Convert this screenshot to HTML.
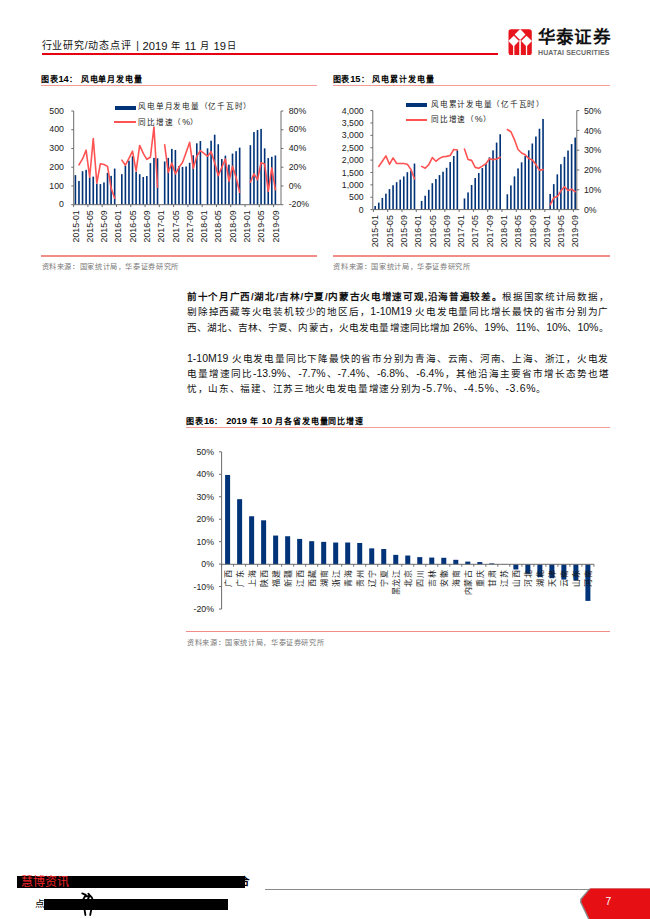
<!DOCTYPE html>
<html lang="zh-CN">
<head>
<meta charset="utf-8">
<title>华泰证券 行业研究/动态点评</title>
<style>
html,body{margin:0;padding:0;background:#fff;}
body{width:650px;height:919px;position:relative;overflow:hidden;font-family:"Liberation Sans",sans-serif;color:#000;}
.abs{position:absolute;white-space:nowrap;}
.hdr{left:41.5px;top:38.5px;font-size:10px;line-height:14px;color:#111;}
.hdr.num{font-size:11.2px;}
.hdr.c{font-size:9.2px;}
.hline{left:41.5px;top:53.4px;width:456px;height:1.8px;background:#e60012;}
.ttl{font-size:8px;font-weight:bold;line-height:10px;letter-spacing:0.85px;}
.ttl span{font-size:9.3px;letter-spacing:0;line-height:8px;}
.tline{height:1.1px;background:#f39c98;}
.bline{height:1.4px;background:#f28c86;}
.src{font-size:7.2px;line-height:10px;color:#777;letter-spacing:0.63px;}
.leg{font-size:7.6px;line-height:10px;color:#222;letter-spacing:0.75px;}
.leg span{font-size:8.8px;letter-spacing:0;}
.para{position:absolute;left:187px;width:421.5px;font-size:9.6px;line-height:15.3px;color:#111;text-align:justify;text-align-last:justify;}
.para div{white-space:nowrap;height:15.3px;}
.para .n{font-size:10.5px;line-height:10px;}
.para div.last{text-align-last:left;letter-spacing:0.69px;}
svg{position:absolute;left:0;top:0;}
svg text{font-family:"Liberation Sans",sans-serif;}
.ax{font-size:8.75px;fill:#222;}
.pv{font-size:8px;fill:#1a1a1a;letter-spacing:0.5px;}
.logocn{left:537.5px;top:27.4px;font-size:17.6px;line-height:20px;font-weight:bold;letter-spacing:0.4px;color:#111;}
.logoen{left:538px;top:49.3px;font-size:7px;line-height:8px;font-weight:bold;color:#6a6a6a;letter-spacing:0.13px;}
</style>
</head>
<body>

<div class="abs hdr" style="letter-spacing:0.8px;">行业研究/动态点评</div>
<div class="abs hdr" style="left:136.3px;">|</div>
<div class="abs hdr num" style="left:142.6px;">2019</div>
<div class="abs hdr c" style="left:171.1px;">年</div>
<div class="abs hdr num" style="left:184.6px;">11</div>
<div class="abs hdr c" style="left:200.4px;">月</div>
<div class="abs hdr num" style="left:213.5px;">19</div>
<div class="abs hdr c" style="left:227.4px;">日</div>
<div class="abs hline"></div>

<!-- logo -->
<svg width="650" height="70" viewBox="0 0 650 70" style="height:70px">
 <g transform="translate(508.5 29.2)">
  <rect x="0" y="0" width="23.3" height="25.85" rx="2.6" ry="2.6" fill="#e8141c"/>
  <g fill="#fff">
   <polygon points="11.65,-0.2 17.0,5.4 11.65,10.8 6.1,5.4"/>
   <polygon points="5.3,6.6 10.5,11.8 5.2,17.2 -0.2,11.8"/>
   <polygon points="18,6.6 23.5,11.8 18,17.2 12.7,11.8"/>
   <rect x="4.6" y="15" width="1.25" height="11"/>
   <rect x="10.75" y="11" width="1.6" height="15"/>
   <rect x="17.4" y="15" width="1.25" height="11"/>
  </g>
 </g>
</svg>
<div class="abs logocn">华泰证券</div>
<div class="abs logoen">HUATAI SECURITIES</div>

<!-- chart titles -->
<div class="abs ttl" style="left:40.7px;top:74.9px;">图表<span>14</span>： 风电单月发电量</div>
<div class="abs tline" style="left:40.9px;top:85.4px;width:276.1px;"></div>
<div class="abs ttl" style="left:332.5px;top:74.9px;">图表<span>15</span>： 风电累计发电量</div>
<div class="abs tline" style="left:332.7px;top:85.4px;width:277.1px;"></div>

<!-- legends -->
<div class="abs" style="left:115px;top:105.6px;width:20.6px;height:4px;background:#003378;"></div>
<div class="abs leg" style="left:138.4px;top:101.8px;">风电单月发电量（亿千瓦时）</div>
<div class="abs" style="left:114px;top:121px;width:22px;height:1.6px;background:#ff5252;"></div>
<div class="abs leg" style="left:138.4px;top:116.6px;">同比增速（<span>%</span>）</div>

<div class="abs" style="left:406.2px;top:103px;width:20.6px;height:4px;background:#003378;"></div>
<div class="abs leg" style="left:431px;top:99.6px;">风电累计发电量（亿千瓦时）</div>
<div class="abs" style="left:406.2px;top:119px;width:20.6px;height:1.7px;background:#ff5252;"></div>
<div class="abs leg" style="left:431px;top:114.4px;">同比增速（<span>%</span>）</div>

<svg width="650" height="919" viewBox="0 0 650 919">
<g id="chart14">
<rect x="74.59" y="175.12" width="1.62" height="29.58" fill="#003378"/>
<rect x="78.16" y="180.93" width="1.62" height="23.77" fill="#003378"/>
<rect x="81.73" y="171.19" width="1.62" height="33.51" fill="#003378"/>
<rect x="85.3" y="169.88" width="1.62" height="34.82" fill="#003378"/>
<rect x="88.87" y="177.37" width="1.62" height="27.33" fill="#003378"/>
<rect x="92.45" y="176.62" width="1.62" height="28.08" fill="#003378"/>
<rect x="96.02" y="183.55" width="1.62" height="21.15" fill="#003378"/>
<rect x="99.59" y="184.11" width="1.62" height="20.59" fill="#003378"/>
<rect x="103.16" y="182.42" width="1.62" height="22.28" fill="#003378"/>
<rect x="106.73" y="172.88" width="1.62" height="31.82" fill="#003378"/>
<rect x="110.3" y="175.87" width="1.62" height="28.83" fill="#003378"/>
<rect x="113.87" y="168.57" width="1.62" height="36.13" fill="#003378"/>
<rect x="121.01" y="174.19" width="1.62" height="30.51" fill="#003378"/>
<rect x="124.58" y="165.76" width="1.62" height="38.94" fill="#003378"/>
<rect x="128.16" y="160.71" width="1.62" height="43.99" fill="#003378"/>
<rect x="131.73" y="156.22" width="1.62" height="48.48" fill="#003378"/>
<rect x="135.3" y="171.94" width="1.62" height="32.76" fill="#003378"/>
<rect x="138.87" y="174.19" width="1.62" height="30.51" fill="#003378"/>
<rect x="142.44" y="176.99" width="1.62" height="27.71" fill="#003378"/>
<rect x="146.01" y="176.06" width="1.62" height="28.64" fill="#003378"/>
<rect x="149.58" y="163.14" width="1.62" height="41.56" fill="#003378"/>
<rect x="153.15" y="157.9" width="1.62" height="46.8" fill="#003378"/>
<rect x="156.72" y="158.27" width="1.62" height="46.43" fill="#003378"/>
<rect x="163.87" y="161.46" width="1.62" height="43.24" fill="#003378"/>
<rect x="167.44" y="157.9" width="1.62" height="46.8" fill="#003378"/>
<rect x="171.01" y="148.91" width="1.62" height="55.79" fill="#003378"/>
<rect x="174.58" y="150.04" width="1.62" height="54.66" fill="#003378"/>
<rect x="178.15" y="166.14" width="1.62" height="38.56" fill="#003378"/>
<rect x="181.72" y="166.89" width="1.62" height="37.81" fill="#003378"/>
<rect x="185.29" y="166.51" width="1.62" height="38.19" fill="#003378"/>
<rect x="188.86" y="162.77" width="1.62" height="41.93" fill="#003378"/>
<rect x="192.43" y="155.28" width="1.62" height="49.42" fill="#003378"/>
<rect x="196" y="143.3" width="1.62" height="61.4" fill="#003378"/>
<rect x="199.57" y="141.05" width="1.62" height="63.65" fill="#003378"/>
<rect x="206.72" y="148.35" width="1.62" height="56.35" fill="#003378"/>
<rect x="210.29" y="140.68" width="1.62" height="64.02" fill="#003378"/>
<rect x="213.86" y="134.69" width="1.62" height="70.01" fill="#003378"/>
<rect x="217.43" y="144.23" width="1.62" height="60.47" fill="#003378"/>
<rect x="221" y="159.02" width="1.62" height="45.68" fill="#003378"/>
<rect x="224.57" y="155.65" width="1.62" height="49.05" fill="#003378"/>
<rect x="228.14" y="164.64" width="1.62" height="40.06" fill="#003378"/>
<rect x="231.71" y="153.59" width="1.62" height="51.11" fill="#003378"/>
<rect x="235.29" y="151.16" width="1.62" height="53.54" fill="#003378"/>
<rect x="238.86" y="147.6" width="1.62" height="57.1" fill="#003378"/>
<rect x="249.57" y="145.17" width="1.62" height="59.53" fill="#003378"/>
<rect x="253.14" y="132.07" width="1.62" height="72.63" fill="#003378"/>
<rect x="256.71" y="130.01" width="1.62" height="74.69" fill="#003378"/>
<rect x="260.28" y="128.88" width="1.62" height="75.82" fill="#003378"/>
<rect x="263.85" y="148.35" width="1.62" height="56.35" fill="#003378"/>
<rect x="267.42" y="158.09" width="1.62" height="46.61" fill="#003378"/>
<rect x="271" y="156.78" width="1.62" height="47.92" fill="#003378"/>
<rect x="274.57" y="155.47" width="1.62" height="49.23" fill="#003378"/>
<path d="M73.7 111 V204.7 M281 111 V204.7 M73.7 204.7 H281" stroke="#6c6c6c" stroke-width="1" fill="none"/>
<path d="M73.7 204.7 h-2.4 M73.7 185.96 h-2.4 M73.7 167.22 h-2.4 M73.7 148.48 h-2.4 M73.7 129.74 h-2.4 M73.7 111 h-2.4 M281 204.7 h2.4 M281 185.96 h2.4 M281 167.22 h2.4 M281 148.48 h2.4 M281 129.74 h2.4 M281 111 h2.4 M73.61 204.7 v2.4 M87.9 204.7 v2.4 M102.18 204.7 v2.4 M116.47 204.7 v2.4 M130.75 204.7 v2.4 M145.03 204.7 v2.4 M159.32 204.7 v2.4 M173.6 204.7 v2.4 M187.89 204.7 v2.4 M202.17 204.7 v2.4 M216.45 204.7 v2.4 M230.74 204.7 v2.4 M245.02 204.7 v2.4 M259.31 204.7 v2.4 M273.59 204.7 v2.4 " stroke="#6c6c6c" stroke-width="1" fill="none"/>
<polyline points="78.97,164.92 82.54,158.93 86.11,150.13 89.68,177.09 93.26,138.62 96.83,182.98 100.4,163.7 103.97,164.45 107.54,166.42 111.11,188.13 114.68,198.24" fill="none" stroke="#ff5252" stroke-width="1.6" stroke-linejoin="round" stroke-linecap="round"/>
<polyline points="121.82,160.15 125.39,165.2 128.97,158.46 132.54,151.16 136.11,171.19 139.68,145.45 143.25,153.41 146.82,159.3 150.39,157.24 153.96,127.11 157.53,187.29" fill="none" stroke="#ff5252" stroke-width="1.6" stroke-linejoin="round" stroke-linecap="round"/>
<polyline points="164.68,144.89 168.25,172.5 171.82,163.05 175.39,173.81 178.96,167.26 182.53,162.58 186.1,152.56 189.67,142.36 193.24,168.2 196.81,156.22 200.38,150.69 207.53,156.22 211.1,151.63 214.67,162.67 218.24,175.68 221.81,167.26 225.38,159.02 228.95,181.21 232.52,166.32 236.1,177.56 239.67,192.25" fill="none" stroke="#ff5252" stroke-width="1.6" stroke-linejoin="round" stroke-linecap="round"/>
<polyline points="250.38,182.24 253.95,173.81 257.52,179.71 261.09,162.67 264.66,163.98 268.23,191.32 271.81,167.92 275.38,189.72" fill="none" stroke="#ff5252" stroke-width="1.6" stroke-linejoin="round" stroke-linecap="round"/>
<text x="63.9" y="207.3" text-anchor="end" class="ax">0</text>
<text x="63.9" y="188.56" text-anchor="end" class="ax">100</text>
<text x="63.9" y="169.82" text-anchor="end" class="ax">200</text>
<text x="63.9" y="151.08" text-anchor="end" class="ax">300</text>
<text x="63.9" y="132.34" text-anchor="end" class="ax">400</text>
<text x="63.9" y="113.6" text-anchor="end" class="ax">500</text>
<text x="288.7" y="207.3" class="ax">-20%</text>
<text x="288.7" y="188.56" class="ax">0%</text>
<text x="288.7" y="169.82" class="ax">20%</text>
<text x="288.7" y="151.08" class="ax">40%</text>
<text x="288.7" y="132.34" class="ax">60%</text>
<text x="288.7" y="113.6" class="ax">80%</text>
<text transform="translate(78.6 210.3) rotate(-90)" text-anchor="end" class="ax">2015-01</text>
<text transform="translate(92.88 210.3) rotate(-90)" text-anchor="end" class="ax">2015-05</text>
<text transform="translate(107.17 210.3) rotate(-90)" text-anchor="end" class="ax">2015-09</text>
<text transform="translate(121.45 210.3) rotate(-90)" text-anchor="end" class="ax">2016-01</text>
<text transform="translate(135.74 210.3) rotate(-90)" text-anchor="end" class="ax">2016-05</text>
<text transform="translate(150.02 210.3) rotate(-90)" text-anchor="end" class="ax">2016-09</text>
<text transform="translate(164.3 210.3) rotate(-90)" text-anchor="end" class="ax">2017-01</text>
<text transform="translate(178.59 210.3) rotate(-90)" text-anchor="end" class="ax">2017-05</text>
<text transform="translate(192.87 210.3) rotate(-90)" text-anchor="end" class="ax">2017-09</text>
<text transform="translate(207.16 210.3) rotate(-90)" text-anchor="end" class="ax">2018-01</text>
<text transform="translate(221.44 210.3) rotate(-90)" text-anchor="end" class="ax">2018-05</text>
<text transform="translate(235.72 210.3) rotate(-90)" text-anchor="end" class="ax">2018-09</text>
<text transform="translate(250.01 210.3) rotate(-90)" text-anchor="end" class="ax">2019-01</text>
<text transform="translate(264.29 210.3) rotate(-90)" text-anchor="end" class="ax">2019-05</text>
<text transform="translate(278.58 210.3) rotate(-90)" text-anchor="end" class="ax">2019-09</text>
</g>
<g id="chart15">
<rect x="374.39" y="206.05" width="1.62" height="3.55" fill="#003378"/>
<rect x="377.96" y="202.66" width="1.62" height="6.94" fill="#003378"/>
<rect x="381.53" y="197.92" width="1.62" height="11.68" fill="#003378"/>
<rect x="385.1" y="193.69" width="1.62" height="15.91" fill="#003378"/>
<rect x="388.67" y="189.12" width="1.62" height="20.48" fill="#003378"/>
<rect x="392.25" y="185.23" width="1.62" height="24.37" fill="#003378"/>
<rect x="395.82" y="182.18" width="1.62" height="27.42" fill="#003378"/>
<rect x="399.39" y="179.65" width="1.62" height="29.95" fill="#003378"/>
<rect x="402.96" y="176.43" width="1.62" height="33.17" fill="#003378"/>
<rect x="406.53" y="172.2" width="1.62" height="37.4" fill="#003378"/>
<rect x="410.1" y="170.51" width="1.62" height="39.09" fill="#003378"/>
<rect x="413.67" y="163.57" width="1.62" height="46.03" fill="#003378"/>
<rect x="420.81" y="200.97" width="1.62" height="8.63" fill="#003378"/>
<rect x="424.38" y="195.72" width="1.62" height="13.88" fill="#003378"/>
<rect x="427.95" y="189.8" width="1.62" height="19.8" fill="#003378"/>
<rect x="431.53" y="183.2" width="1.62" height="26.4" fill="#003378"/>
<rect x="435.1" y="178.97" width="1.62" height="30.63" fill="#003378"/>
<rect x="438.67" y="175.08" width="1.62" height="34.52" fill="#003378"/>
<rect x="442.24" y="171.69" width="1.62" height="37.91" fill="#003378"/>
<rect x="445.81" y="167.8" width="1.62" height="41.8" fill="#003378"/>
<rect x="449.38" y="162.05" width="1.62" height="47.55" fill="#003378"/>
<rect x="452.95" y="155.95" width="1.62" height="53.65" fill="#003378"/>
<rect x="456.52" y="150.2" width="1.62" height="59.4" fill="#003378"/>
<rect x="463.67" y="198.43" width="1.62" height="11.17" fill="#003378"/>
<rect x="467.24" y="192.43" width="1.62" height="17.17" fill="#003378"/>
<rect x="470.81" y="185.05" width="1.62" height="24.55" fill="#003378"/>
<rect x="474.38" y="178.03" width="1.62" height="31.57" fill="#003378"/>
<rect x="477.95" y="173.05" width="1.62" height="36.55" fill="#003378"/>
<rect x="481.52" y="168.06" width="1.62" height="41.54" fill="#003378"/>
<rect x="485.09" y="163.82" width="1.62" height="45.78" fill="#003378"/>
<rect x="488.66" y="157.36" width="1.62" height="52.24" fill="#003378"/>
<rect x="492.23" y="150.34" width="1.62" height="59.26" fill="#003378"/>
<rect x="495.8" y="142.59" width="1.62" height="67.01" fill="#003378"/>
<rect x="499.38" y="134.28" width="1.62" height="75.32" fill="#003378"/>
<rect x="506.52" y="194.28" width="1.62" height="15.32" fill="#003378"/>
<rect x="510.09" y="185.42" width="1.62" height="24.18" fill="#003378"/>
<rect x="513.66" y="176.37" width="1.62" height="33.23" fill="#003378"/>
<rect x="517.23" y="168.43" width="1.62" height="41.17" fill="#003378"/>
<rect x="520.8" y="162.34" width="1.62" height="47.26" fill="#003378"/>
<rect x="524.37" y="156.06" width="1.62" height="53.54" fill="#003378"/>
<rect x="527.94" y="150.34" width="1.62" height="59.26" fill="#003378"/>
<rect x="531.51" y="143.51" width="1.62" height="66.09" fill="#003378"/>
<rect x="535.09" y="136.5" width="1.62" height="73.1" fill="#003378"/>
<rect x="538.66" y="128.74" width="1.62" height="80.86" fill="#003378"/>
<rect x="542.23" y="118.96" width="1.62" height="90.64" fill="#003378"/>
<rect x="549.37" y="193.91" width="1.62" height="15.69" fill="#003378"/>
<rect x="552.94" y="184.12" width="1.62" height="25.48" fill="#003378"/>
<rect x="556.51" y="174.34" width="1.62" height="35.26" fill="#003378"/>
<rect x="560.08" y="164.19" width="1.62" height="45.41" fill="#003378"/>
<rect x="563.65" y="156.8" width="1.62" height="52.8" fill="#003378"/>
<rect x="567.22" y="150.53" width="1.62" height="59.07" fill="#003378"/>
<rect x="570.8" y="144.07" width="1.62" height="65.53" fill="#003378"/>
<rect x="574.37" y="137.6" width="1.62" height="72" fill="#003378"/>
<path d="M372.8 110.6 V209.6 M576.8 110.6 V209.6 M372.8 209.6 H576.8" stroke="#6c6c6c" stroke-width="1" fill="none"/>
<path d="M372.8 209.6 h-2.4 M372.8 197.22 h-2.4 M372.8 184.85 h-2.4 M372.8 172.47 h-2.4 M372.8 160.1 h-2.4 M372.8 147.72 h-2.4 M372.8 135.35 h-2.4 M372.8 122.97 h-2.4 M372.8 110.6 h-2.4 M576.8 209.6 h2.4 M576.8 189.8 h2.4 M576.8 170 h2.4 M576.8 150.2 h2.4 M576.8 130.4 h2.4 M576.8 110.6 h2.4 M373.41 209.6 v2.4 M387.7 209.6 v2.4 M401.98 209.6 v2.4 M416.27 209.6 v2.4 M430.55 209.6 v2.4 M444.83 209.6 v2.4 M459.12 209.6 v2.4 M473.4 209.6 v2.4 M487.69 209.6 v2.4 M501.97 209.6 v2.4 M516.25 209.6 v2.4 M530.54 209.6 v2.4 M544.82 209.6 v2.4 M559.11 209.6 v2.4 M573.39 209.6 v2.4 " stroke="#6c6c6c" stroke-width="1" fill="none"/>
<polyline points="378.77,166.51 382.34,161.26 385.91,155.85 389.48,164.31 393.06,157.88 396.63,163.46 400.2,163.46 403.77,163.46 407.34,164.31 410.91,169.39 414.48,178.69" fill="none" stroke="#ff5252" stroke-width="1.6" stroke-linejoin="round" stroke-linecap="round"/>
<polyline points="421.62,166.34 425.19,168.2 428.76,164.65 432.34,157.54 435.91,161.26 439.48,158.39 443.05,156.69 446.62,156.35 450.19,155.51 453.76,149.42 457.33,149.92" fill="none" stroke="#ff5252" stroke-width="1.6" stroke-linejoin="round" stroke-linecap="round"/>
<polyline points="464.48,149.08 468.05,159.44 471.62,160.37 475.19,167.38 478.76,168.3 482.33,166.09 485.9,163.69 489.47,158.7 493.04,159.63 496.61,159.07 500.19,157.23" fill="none" stroke="#ff5252" stroke-width="1.6" stroke-linejoin="round" stroke-linecap="round"/>
<polyline points="507.33,129.54 510.9,131.75 514.47,139.69 518.04,149.47 521.61,152.98 525.18,154.83 528.75,158.52 532.32,160 535.89,164.61 539.47,170.15 543.04,169.6" fill="none" stroke="#ff5252" stroke-width="1.6" stroke-linejoin="round" stroke-linecap="round"/>
<polyline points="550.18,204.86 553.75,197.84 557.32,196.55 560.89,190.83 564.46,186.76 568.03,190.46 571.61,189.16 575.18,191.75" fill="none" stroke="#ff5252" stroke-width="1.6" stroke-linejoin="round" stroke-linecap="round"/>
<text x="363.7" y="212.7" text-anchor="end" class="ax">0</text>
<text x="363.7" y="200.32" text-anchor="end" class="ax">500</text>
<text x="363.7" y="187.95" text-anchor="end" class="ax">1,000</text>
<text x="363.7" y="175.57" text-anchor="end" class="ax">1,500</text>
<text x="363.7" y="163.2" text-anchor="end" class="ax">2,000</text>
<text x="363.7" y="150.82" text-anchor="end" class="ax">2,500</text>
<text x="363.7" y="138.45" text-anchor="end" class="ax">3,000</text>
<text x="363.7" y="126.07" text-anchor="end" class="ax">3,500</text>
<text x="363.7" y="113.7" text-anchor="end" class="ax">4,000</text>
<text x="583.9" y="212.7" class="ax">0%</text>
<text x="583.9" y="192.9" class="ax">10%</text>
<text x="583.9" y="173.1" class="ax">20%</text>
<text x="583.9" y="153.3" class="ax">30%</text>
<text x="583.9" y="133.5" class="ax">40%</text>
<text x="583.9" y="113.7" class="ax">50%</text>
<text transform="translate(378.4 215.2) rotate(-90)" text-anchor="end" class="ax">2015-01</text>
<text transform="translate(392.68 215.2) rotate(-90)" text-anchor="end" class="ax">2015-05</text>
<text transform="translate(406.97 215.2) rotate(-90)" text-anchor="end" class="ax">2015-09</text>
<text transform="translate(421.25 215.2) rotate(-90)" text-anchor="end" class="ax">2016-01</text>
<text transform="translate(435.54 215.2) rotate(-90)" text-anchor="end" class="ax">2016-05</text>
<text transform="translate(449.82 215.2) rotate(-90)" text-anchor="end" class="ax">2016-09</text>
<text transform="translate(464.1 215.2) rotate(-90)" text-anchor="end" class="ax">2017-01</text>
<text transform="translate(478.39 215.2) rotate(-90)" text-anchor="end" class="ax">2017-05</text>
<text transform="translate(492.67 215.2) rotate(-90)" text-anchor="end" class="ax">2017-09</text>
<text transform="translate(506.96 215.2) rotate(-90)" text-anchor="end" class="ax">2018-01</text>
<text transform="translate(521.24 215.2) rotate(-90)" text-anchor="end" class="ax">2018-05</text>
<text transform="translate(535.52 215.2) rotate(-90)" text-anchor="end" class="ax">2018-09</text>
<text transform="translate(549.81 215.2) rotate(-90)" text-anchor="end" class="ax">2019-01</text>
<text transform="translate(564.09 215.2) rotate(-90)" text-anchor="end" class="ax">2019-05</text>
<text transform="translate(578.38 215.2) rotate(-90)" text-anchor="end" class="ax">2019-09</text>
</g>
<g id="chart16">
<rect x="225.1" y="474.95" width="5" height="89.35" fill="#003378"/>
<rect x="237.12" y="499.19" width="5" height="65.11" fill="#003378"/>
<rect x="249.12" y="516.26" width="5" height="48.04" fill="#003378"/>
<rect x="261.13" y="520.3" width="5" height="44" fill="#003378"/>
<rect x="273.14" y="535.56" width="5" height="28.74" fill="#003378"/>
<rect x="285.15" y="536.24" width="5" height="28.06" fill="#003378"/>
<rect x="297.16" y="538.93" width="5" height="25.37" fill="#003378"/>
<rect x="309.18" y="541.18" width="5" height="23.12" fill="#003378"/>
<rect x="321.19" y="541.85" width="5" height="22.45" fill="#003378"/>
<rect x="333.19" y="542.52" width="5" height="21.78" fill="#003378"/>
<rect x="345.2" y="542.52" width="5" height="21.78" fill="#003378"/>
<rect x="357.22" y="542.97" width="5" height="21.33" fill="#003378"/>
<rect x="369.23" y="548.36" width="5" height="15.94" fill="#003378"/>
<rect x="381.24" y="549.03" width="5" height="15.27" fill="#003378"/>
<rect x="393.25" y="554.87" width="5" height="9.43" fill="#003378"/>
<rect x="405.25" y="555.54" width="5" height="8.76" fill="#003378"/>
<rect x="417.26" y="557.12" width="5" height="7.18" fill="#003378"/>
<rect x="429.27" y="557.56" width="5" height="6.74" fill="#003378"/>
<rect x="441.28" y="557.79" width="5" height="6.51" fill="#003378"/>
<rect x="453.29" y="559.81" width="5" height="4.49" fill="#003378"/>
<rect x="465.3" y="561.61" width="5" height="2.69" fill="#003378"/>
<rect x="477.31" y="562.05" width="5" height="2.25" fill="#003378"/>
<rect x="489.33" y="563.4" width="5" height="0.9" fill="#003378"/>
<rect x="501.34" y="564.08" width="5" height="0.22" fill="#003378"/>
<rect x="513.35" y="564.3" width="5" height="5.16" fill="#003378"/>
<rect x="525.36" y="564.3" width="5" height="9.43" fill="#003378"/>
<rect x="537.37" y="564.3" width="5" height="12.8" fill="#003378"/>
<rect x="549.38" y="564.3" width="5" height="13.92" fill="#003378"/>
<rect x="561.38" y="564.3" width="5" height="15.27" fill="#003378"/>
<rect x="573.39" y="564.3" width="5" height="16.16" fill="#003378"/>
<rect x="585.4" y="564.3" width="5" height="36.59" fill="#003378"/>
<path d="M221.6 451.9 V609 M221.6 564.3 H593.91" stroke="#6c6c6c" stroke-width="1" fill="none"/>
<path d="M221.6 609 h-2.6 M221.6 586.55 h-2.6 M221.6 564.1 h-2.6 M221.6 541.65 h-2.6 M221.6 519.2 h-2.6 M221.6 496.75 h-2.6 M221.6 474.3 h-2.6 M221.6 451.85 h-2.6 M221.6 564.3 v2.4 M233.61 564.3 v2.4 M245.62 564.3 v2.4 M257.63 564.3 v2.4 M269.64 564.3 v2.4 M281.65 564.3 v2.4 M293.66 564.3 v2.4 M305.67 564.3 v2.4 M317.68 564.3 v2.4 M329.69 564.3 v2.4 M341.7 564.3 v2.4 M353.71 564.3 v2.4 M365.72 564.3 v2.4 M377.73 564.3 v2.4 M389.74 564.3 v2.4 M401.75 564.3 v2.4 M413.76 564.3 v2.4 M425.77 564.3 v2.4 M437.78 564.3 v2.4 M449.79 564.3 v2.4 M461.8 564.3 v2.4 M473.81 564.3 v2.4 M485.82 564.3 v2.4 M497.83 564.3 v2.4 M509.84 564.3 v2.4 M521.85 564.3 v2.4 M533.86 564.3 v2.4 M545.87 564.3 v2.4 M557.88 564.3 v2.4 M569.89 564.3 v2.4 M581.9 564.3 v2.4 M593.91 564.3 v2.4 " stroke="#6c6c6c" stroke-width="1" fill="none"/>
<text x="214" y="612.1" text-anchor="end" class="ax">-20%</text>
<text x="214" y="589.65" text-anchor="end" class="ax">-10%</text>
<text x="214" y="567.2" text-anchor="end" class="ax">0%</text>
<text x="214" y="544.75" text-anchor="end" class="ax">10%</text>
<text x="214" y="522.3" text-anchor="end" class="ax">20%</text>
<text x="214" y="499.85" text-anchor="end" class="ax">30%</text>
<text x="214" y="477.4" text-anchor="end" class="ax">40%</text>
<text x="214" y="454.95" text-anchor="end" class="ax">50%</text>
<text transform="translate(230.5 569.7) rotate(-90)" text-anchor="end" class="pv">广西</text>
<text transform="translate(242.52 569.7) rotate(-90)" text-anchor="end" class="pv">广东</text>
<text transform="translate(254.53 569.7) rotate(-90)" text-anchor="end" class="pv">上海</text>
<text transform="translate(266.53 569.7) rotate(-90)" text-anchor="end" class="pv">陕西</text>
<text transform="translate(278.54 569.7) rotate(-90)" text-anchor="end" class="pv">福建</text>
<text transform="translate(290.55 569.7) rotate(-90)" text-anchor="end" class="pv">新疆</text>
<text transform="translate(302.56 569.7) rotate(-90)" text-anchor="end" class="pv">江西</text>
<text transform="translate(314.57 569.7) rotate(-90)" text-anchor="end" class="pv">西藏</text>
<text transform="translate(326.58 569.7) rotate(-90)" text-anchor="end" class="pv">湖南</text>
<text transform="translate(338.59 569.7) rotate(-90)" text-anchor="end" class="pv">浙江</text>
<text transform="translate(350.6 569.7) rotate(-90)" text-anchor="end" class="pv">青海</text>
<text transform="translate(362.62 569.7) rotate(-90)" text-anchor="end" class="pv">贵州</text>
<text transform="translate(374.62 569.7) rotate(-90)" text-anchor="end" class="pv">辽宁</text>
<text transform="translate(386.63 569.7) rotate(-90)" text-anchor="end" class="pv">宁夏</text>
<text transform="translate(398.64 569.7) rotate(-90)" text-anchor="end" class="pv">黑龙江</text>
<text transform="translate(410.65 569.7) rotate(-90)" text-anchor="end" class="pv">北京</text>
<text transform="translate(422.66 569.7) rotate(-90)" text-anchor="end" class="pv">四川</text>
<text transform="translate(434.67 569.7) rotate(-90)" text-anchor="end" class="pv">吉林</text>
<text transform="translate(446.68 569.7) rotate(-90)" text-anchor="end" class="pv">安徽</text>
<text transform="translate(458.69 569.7) rotate(-90)" text-anchor="end" class="pv">海南</text>
<text transform="translate(470.7 569.7) rotate(-90)" text-anchor="end" class="pv">内蒙古</text>
<text transform="translate(482.71 569.7) rotate(-90)" text-anchor="end" class="pv">重庆</text>
<text transform="translate(494.73 569.7) rotate(-90)" text-anchor="end" class="pv">甘肃</text>
<text transform="translate(506.74 569.7) rotate(-90)" text-anchor="end" class="pv">江苏</text>
<text transform="translate(518.75 569.7) rotate(-90)" text-anchor="end" class="pv">山西</text>
<text transform="translate(530.75 569.7) rotate(-90)" text-anchor="end" class="pv">河北</text>
<text transform="translate(542.76 569.7) rotate(-90)" text-anchor="end" class="pv">湖北</text>
<text transform="translate(554.77 569.7) rotate(-90)" text-anchor="end" class="pv">天津</text>
<text transform="translate(566.78 569.7) rotate(-90)" text-anchor="end" class="pv">云南</text>
<text transform="translate(578.79 569.7) rotate(-90)" text-anchor="end" class="pv">山东</text>
<text transform="translate(590.8 569.7) rotate(-90)" text-anchor="end" class="pv">河南</text>
</g>
</svg>

<!-- sources for top charts -->
<div class="abs bline" style="left:40.9px;top:255.3px;width:276.1px;"></div>
<div class="abs src" style="left:41.5px;top:261.5px;">资料来源：国家统计局，华泰证券研究所</div>
<div class="abs bline" style="left:332.7px;top:255.3px;width:277.1px;"></div>
<div class="abs src" style="left:333.3px;top:261.5px;">资料来源：国家统计局，华泰证券研究所</div>

<!-- paragraphs -->
<div class="para" style="top:289px;">
 <div><b>前十个月广西/湖北/吉林/宁夏/内蒙古火电增速可观,沿海普遍较差。</b>根据国家统计局数据，</div>
 <div>剔除掉西藏等火电装机较少的地区后，<span class="n">1-10M19</span> 火电发电量同比增长最快的省市分别为广</div>
 <div>西、湖北、吉林、宁夏、内蒙古，火电发电量增速同比增加 <span class="n">26%</span>、<span class="n">19%</span>、<span class="n">11%</span>、<span class="n">10%</span>、<span class="n">10%</span>。</div>
</div>
<div class="para" style="top:350.5px;">
 <div><span class="n">1-10M19</span> 火电发电量同比下降最快的省市分别为青海、云南、河南、上海、浙江，火电发</div>
 <div>电量增速同比<span class="n">-13.9%</span>、<span class="n">-7.7%</span>、<span class="n">-7.4%</span>、<span class="n">-6.8%</span>、<span class="n">-6.4%</span>，其他沿海主要省市增长态势也堪</div>
 <div class="last">忧，山东、福建、江苏三地火电发电量增速分别为<span class="n">-5.7%</span>、<span class="n">-4.5%</span>、<span class="n">-3.6%</span>。</div>
</div>

<!-- chart 16 title -->
<div class="abs ttl" style="left:186.2px;top:416.7px;">图表<span>16</span>： <span>2019</span> 年 <span>10</span> 月各省发电量同比增速</div>
<div class="abs tline" style="left:186.4px;top:427px;width:423.4px;"></div>

<div class="abs bline" style="left:186.4px;top:630.8px;width:423.4px;"></div>
<div class="abs src" style="left:187px;top:638.2px;">资料来源：国家统计局，华泰证券研究所</div>

<!-- footer -->
<div class="abs" style="left:239.3px;top:875.2px;font-size:10.5px;line-height:13px;font-weight:bold;color:#000;">合</div>
<div class="abs" style="left:17px;top:875.5px;width:228.1px;height:12.1px;background:#000;"></div>
<div class="abs" style="left:21px;top:875.3px;font-size:12px;line-height:14px;font-weight:normal;color:#f3262b;letter-spacing:0px;">慧博资讯</div>
<div class="abs" style="left:35.3px;top:897px;font-size:9.5px;line-height:13px;color:#000;">点</div>
<div class="abs" style="left:44px;top:898.7px;width:184px;height:11.8px;background:#000;"></div>
<svg width="650" height="919" viewBox="0 0 650 919">
 <path d="M82.2 893.4 L85.8 894.8 L83.2 899.5 M88.3 893.6 L91.9 897.6 L92.4 899 M85.5 896.3 L89.5 896 L88 899 M84.6 910 L85.4 915 M91.2 910 L90.2 915" stroke="#000" stroke-width="1.8" fill="none" stroke-linecap="round" stroke-linejoin="round"/>
</svg>

<div class="abs" style="left:264.9px;top:888.55px;width:325px;height:1.6px;background:#8a8a8a;"></div>
<svg width="650" height="919" viewBox="0 0 650 919">
 <polygon points="589.2,888.5 650,888.5 650,919 588,919 580.1,902.5 580.1,899" fill="#8a8a8a"/>
 <path d="M590.6 888.6 H650 V919 H589.6 L581.6 902.4 Q580.9 900.6 582 899 Z" fill="#e60f14"/>
 <text x="608.3" y="905.3" text-anchor="middle" font-size="10.4" fill="#fff">7</text>
</svg>

</body>
</html>
